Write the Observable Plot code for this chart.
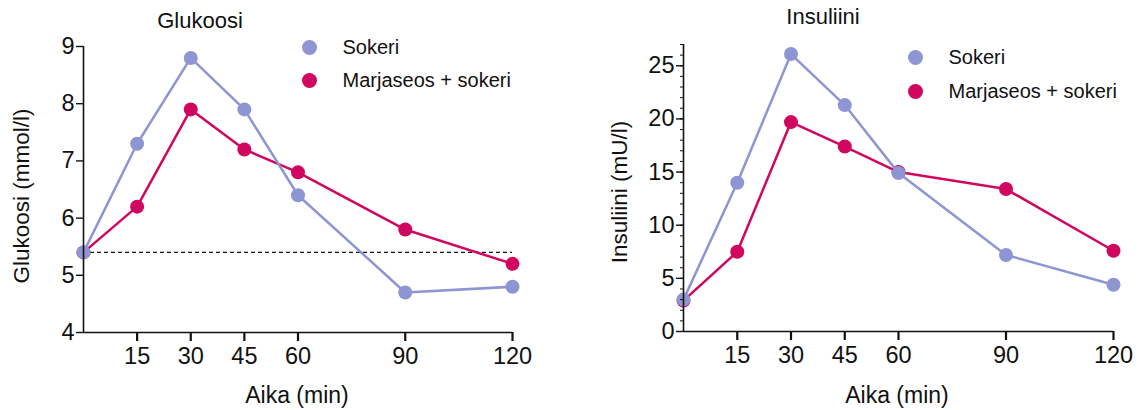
<!DOCTYPE html>
<html>
<head>
<meta charset="utf-8">
<script src="https://cdn.jsdelivr.net/npm/d3@7"></script>
<script src="https://cdn.jsdelivr.net/npm/@observablehq/plot@0.6"></script>
<style>
  html, body { margin: 0; padding: 0; background: #fff; }
  #wrap { position: relative; width: 1139px; height: 410px; font-family: "Liberation Sans", Arial, sans-serif; color: #111; overflow: hidden; }
  .panel { position: absolute; top: 0; }
  .panel text { font-size: 23.5px !important; }
  .txt { position: absolute; white-space: nowrap; color: #111; line-height: 1.15; }
  .title { font-size: 22px; transform: translateX(-50%); }
  .xlab { font-size: 23px; transform: translateX(-50%); }
  .ylab { font-size: 22.5px; transform: translate(-50%, -50%) rotate(-90deg); }
  .leg { position: absolute; display: flex; align-items: center; font-size: 20px; height: 22px; white-space: nowrap; }
  .leg .dot { width: 15px; height: 15px; border-radius: 50%; margin-right: 26px; }
</style>
</head>
<body>
<div id="wrap"></div>
<script>
const times = [0, 15, 30, 45, 60, 90, 120];
const seriesNames = ["Sokeri", "Marjaseos + sokeri"];
const glucoseSokeri = [5.4, 7.3, 8.8, 7.9, 6.4, 4.7, 4.8];
const glucoseMarja = [5.4, 6.2, 7.9, 7.2, 6.8, 5.8, 5.2];
const insulinSokeri = [3.0, 14.0, 26.1, 21.3, 14.9, 7.2, 4.4];
const insulinMarja = [2.9, 7.5, 19.7, 17.4, 15.0, 13.4, 7.6];
const glucoseBaseline = 5.4;
const xTicks = [15, 30, 45, 60, 90, 120];
const glucoseYTicks = [4, 5, 6, 7, 8, 9];
const insulinYTicks = [0, 5, 10, 15, 20, 25];
const insulinMinorTicks = d3.range(0, 28, 1);

const colors = { "Sokeri": "#8e95d3", "Marjaseos + sokeri": "#d1065f" };

function rows(vals, name) { return times.map((t, i) => ({ t, v: vals[i], s: name })); }

const wrap = document.getElementById("wrap");
const font = '"Liberation Sans", Arial, sans-serif';

function makePanel({ left, width, marginLeft, marginRight, marginTop, marginBottom, yDomain, yTicks, minor, sokeri, marja, baseline }) {
  const dS = rows(sokeri, seriesNames[0]);
  const dM = rows(marja, seriesNames[1]);
  const marks = [];
  if (baseline != null) {
    marks.push(Plot.ruleY([baseline], { x1: 0, x2: 120, stroke: "#111", strokeWidth: 1.3, strokeDasharray: "4,3" }));
  }
  marks.push(
    Plot.lineY(dM, { x: "t", y: "v", stroke: colors[seriesNames[1]], strokeWidth: 2.5 }),
    Plot.dot(dM, { x: "t", y: "v", r: 7, fill: colors[seriesNames[1]] }),
    Plot.lineY(dS, { x: "t", y: "v", stroke: colors[seriesNames[0]], strokeWidth: 2.5 }),
    Plot.dot(dS, { x: "t", y: "v", r: 7, fill: colors[seriesNames[0]] }),
    Plot.ruleX([0], { y1: yDomain[0], y2: yDomain[1], stroke: "#111", strokeWidth: 1.6 }),
    Plot.ruleY([yDomain[0]], { x1: 0, x2: 120, stroke: "#111", strokeWidth: 1.6 }),
    Plot.axisX({ ticks: xTicks, tickSize: 9, strokeWidth: 2.2, tickPadding: 6, fontSize: 23.5, label: null, tickFormat: d => d }),
    Plot.axisY({ ticks: yTicks, tickSize: 7, strokeWidth: 1.4, tickPadding: 2, fontSize: 23.5, label: null, tickFormat: d => d })
  );
  if (minor) {
    marks.push(Plot.axisY({ ticks: minor, tickSize: 3, strokeWidth: 1, tickFormat: () => "", label: null }));
  }
  const svg = Plot.plot({
    width, height: 410, marginLeft, marginRight, marginTop, marginBottom,
    style: { fontFamily: font, fontSize: "23.5px", color: "#111", background: "transparent", overflow: "visible" },
    x: { domain: [0, 120] },
    y: { domain: yDomain },
    marks
  });
  svg.classList.add("panel");
  svg.style.left = left + "px";
  wrap.appendChild(svg);
}

makePanel({ left: 0, width: 570, marginLeft: 83, marginRight: 58, marginTop: 46, marginBottom: 78,
  yDomain: [4, 9], yTicks: glucoseYTicks, sokeri: glucoseSokeri, marja: glucoseMarja, baseline: glucoseBaseline });
makePanel({ left: 570, width: 569, marginLeft: 113, marginRight: 26, marginTop: 44, marginBottom: 79,
  yDomain: [0, 27], yTicks: insulinYTicks, minor: insulinMinorTicks, sokeri: insulinSokeri, marja: insulinMarja });

function addText(cls, text, x, y) {
  const el = document.createElement("div");
  el.className = "txt " + cls;
  el.textContent = text;
  el.style.left = x + "px";
  el.style.top = y + "px";
  wrap.appendChild(el);
}
addText("title", "Glukoosi", 200, 8);
addText("title", "Insuliini", 823, 4);
addText("xlab", "Aika (min)", 297, 382);
addText("xlab", "Aika (min)", 897, 382);
addText("ylab", "Glukoosi (mmol/l)", 22, 196);
addText("ylab", "Insuliini (mU/l)", 620, 192);

function addLegend(x, yCenter, gap) {
  seriesNames.forEach((name, i) => {
    const row = document.createElement("div");
    row.className = "leg";
    row.style.left = x + "px";
    row.style.top = (yCenter - 11 + i * gap) + "px";
    const dot = document.createElement("div");
    dot.className = "dot";
    dot.style.background = colors[name];
    const lab = document.createElement("span");
    lab.textContent = name;
    row.appendChild(dot);
    row.appendChild(lab);
    wrap.appendChild(row);
  });
}
addLegend(301.5, 47, 33.5);
addLegend(907.5, 57, 34);
</script>
</body>
</html>
